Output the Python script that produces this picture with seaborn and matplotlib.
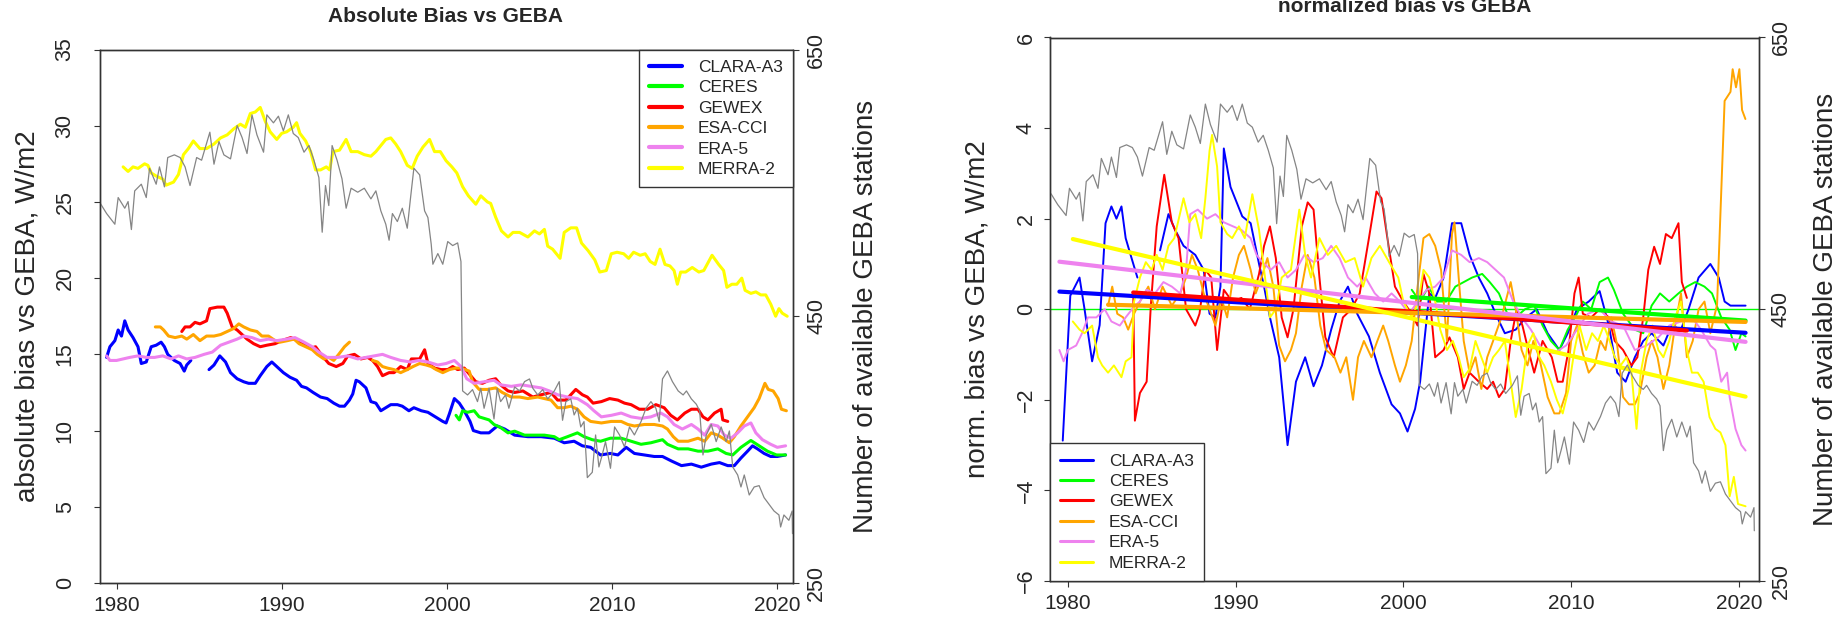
import matplotlib
matplotlib.use("Agg")
import matplotlib.pyplot as plt
from matplotlib.lines import Line2D
import pandas as pd
import seaborn as sns

# ---------------------------------------------------------------- data
SERIES_NAMES = ["CLARA-A3", "CERES", "GEWEX", "ESA-CCI", "ERA-5", "MERRA-2"]
SERIES_COLORS = ["#0000FF", "#00FF00", "#FF0000", "#FFA500", "#EE82EE", "#FFFF00"]

# Number of available GEBA stations (year, count)
geba_stations = [
    (1979.0, 535), (1979.4, 527), (1979.9, 519), (1980.1, 539), (1980.5, 531), (1980.7, 536),
    (1980.9, 515), (1981.1, 544), (1981.5, 549), (1981.8, 539), (1982.0, 561), (1982.4, 549),
    (1982.6, 562), (1982.9, 547), (1983.1, 569), (1983.5, 571), (1983.85, 569), (1984.15, 562),
    (1984.45, 548), (1984.85, 569), (1985.15, 567), (1985.65, 588), (1985.9, 564), (1986.2, 581),
    (1986.5, 571), (1986.9, 568), (1987.3, 593), (1987.6, 584), (1987.9, 572), (1988.2, 601),
    (1988.5, 586), (1988.9, 573), (1989.1, 601), (1989.5, 595), (1989.8, 600), (1990.1, 589),
    (1990.4, 601), (1990.7, 587), (1991.0, 584), (1991.35, 573), (1991.65, 578), (1991.95, 567),
    (1992.25, 554), (1992.45, 513), (1992.65, 548), (1992.85, 533), (1993.05, 578), (1993.35, 567),
    (1993.65, 553), (1993.9, 531), (1994.2, 546), (1994.6, 543), (1995.0, 546), (1995.4, 538),
    (1995.7, 544), (1996.0, 529), (1996.3, 519), (1996.5, 507), (1996.7, 527), (1997.0, 521),
    (1997.3, 531), (1997.6, 516), (1997.8, 539), (1998.0, 561), (1998.35, 556), (1998.65, 529),
    (1998.85, 524), (1999.05, 504), (1999.15, 489), (1999.45, 497), (1999.75, 489), (2000.05, 506),
    (2000.35, 503), (2000.65, 505), (2000.85, 491), (2000.95, 394), (2001.25, 391), (2001.55, 395),
    (2001.85, 386), (2002.05, 396), (2002.25, 381), (2002.55, 396), (2002.85, 373), (2003.05, 396),
    (2003.25, 386), (2003.55, 391), (2003.75, 381), (2004.1, 397), (2004.4, 394), (2004.7, 401),
    (2005.0, 403), (2005.2, 396), (2005.5, 391), (2005.8, 395), (2006.1, 388), (2006.5, 394),
    (2006.8, 401), (2007.0, 372), (2007.2, 386), (2007.5, 388), (2007.7, 376), (2007.9, 381),
    (2008.1, 367), (2008.3, 371), (2008.5, 329), (2008.8, 333), (2009.0, 361), (2009.2, 337),
    (2009.4, 346), (2009.6, 356), (2009.9, 336), (2010.15, 367), (2010.45, 361), (2010.75, 352),
    (2011.05, 367), (2011.35, 361), (2011.75, 371), (2012.05, 381), (2012.35, 386), (2012.65, 381),
    (2012.85, 371), (2013.05, 403), (2013.35, 409), (2013.65, 401), (2014.0, 394), (2014.3, 391),
    (2014.5, 394), (2014.8, 388), (2015.1, 384), (2015.3, 379), (2015.5, 346), (2015.7, 361),
    (2016.0, 369), (2016.3, 356), (2016.6, 367), (2016.9, 356), (2017.1, 364), (2017.3, 337),
    (2017.6, 331), (2017.8, 322), (2018.0, 331), (2018.3, 316), (2018.6, 322), (2018.9, 323),
    (2019.2, 314), (2019.5, 309), (2019.8, 304), (2020.1, 301), (2020.2, 292), (2020.4, 301),
    (2020.7, 297), (2020.9, 304), (2020.92, 287),
]

# Absolute bias vs GEBA, W/m2 (year, value); None marks a data gap
clara_abs = [
    (1979.4, 14.8), (1979.6, 15.5), (1979.9, 15.9), (1980.1, 16.6), (1980.3, 16.2), (1980.5, 17.2),
    (1980.7, 16.6), (1981.0, 16.1), (1981.3, 15.5), (1981.5, 14.4), (1981.8, 14.5), (1982.1, 15.5),
    (1982.4, 15.6), (1982.7, 15.8), (1982.9, 15.5), (1983.1, 15.0), (1983.5, 14.6), (1983.85, 14.4),
    (1984.1, 13.9), (1984.25, 14.3), (1984.5, 14.6), None,
    (1985.6, 14.0), (1985.9, 14.3), (1986.25, 14.9), (1986.6, 14.5), (1986.9, 13.8), (1987.3, 13.4),
    (1987.7, 13.2), (1988.0, 13.1), (1988.4, 13.1), (1988.7, 13.6), (1989.1, 14.2), (1989.4, 14.5),
    (1989.7, 14.2), (1990.1, 13.8), (1990.5, 13.5), (1990.9, 13.3), (1991.2, 12.9), (1991.5, 12.8),
    (1991.9, 12.5), (1992.35, 12.2), (1992.75, 12.1), (1993.15, 11.8), (1993.5, 11.6), (1993.8, 11.6),
    (1994.1, 12.0), (1994.3, 12.4), (1994.5, 13.3), (1994.7, 13.2), (1995.1, 12.8), (1995.4, 11.9),
    (1995.7, 11.8), (1996.0, 11.3), (1996.3, 11.5), (1996.6, 11.7), (1997.0, 11.7), (1997.3, 11.6),
    (1997.7, 11.3), (1998.0, 11.5), (1998.45, 11.3), (1998.85, 11.2), (1999.15, 11.0), (1999.45, 10.8),
    (1999.75, 10.6), (1999.95, 10.5), (2000.15, 11.1), (2000.45, 12.1), (2000.75, 11.8), (2001.05, 11.3),
    (2001.4, 10.6), (2001.6, 10.0), (2002.05, 9.85), (2002.55, 9.85), (2003.05, 10.3), (2003.5, 10.1),
    (2004.1, 9.7), (2004.9, 9.6), (2005.7, 9.6), (2006.5, 9.5), (2007.1, 9.2), (2007.7, 9.3),
    (2008.2, 9.0), (2008.7, 8.9), (2009.3, 8.4), (2009.9, 8.5), (2010.35, 8.4), (2010.85, 8.9),
    (2011.35, 8.5), (2011.95, 8.4), (2012.55, 8.3), (2013.05, 8.3), (2013.6, 8.0), (2014.2, 7.7),
    (2014.8, 7.8), (2015.4, 7.6), (2016.0, 7.8), (2016.5, 7.9), (2017.0, 7.7), (2017.4, 7.7),
    (2017.8, 8.2), (2018.2, 8.65), (2018.5, 9.0), (2018.8, 8.8), (2019.2, 8.5), (2019.6, 8.3),
    (2020.0, 8.3), (2020.5, 8.4),
]
ceres_abs = [
    (2000.55, 11.0), (2000.75, 10.7), (2000.95, 11.3), (2001.25, 11.2), (2001.65, 11.3), (2001.95, 10.9),
    (2002.25, 10.8), (2002.55, 10.7), (2002.85, 10.4), (2003.25, 10.2), (2003.7, 9.85), (2004.1, 9.96),
    (2004.7, 9.7), (2005.3, 9.7), (2005.9, 9.7), (2006.5, 9.6), (2006.8, 9.4), (2007.3, 9.6),
    (2007.9, 9.85), (2008.3, 9.6), (2008.8, 9.4), (2009.3, 9.3), (2009.9, 9.5), (2010.55, 9.5),
    (2011.15, 9.3), (2011.75, 9.1), (2012.35, 9.2), (2013.05, 9.4), (2013.35, 9.1), (2014.0, 8.8),
    (2014.6, 8.8), (2015.2, 8.65), (2015.8, 8.65), (2016.4, 8.8), (2016.9, 8.5), (2017.3, 8.4),
    (2017.8, 8.9), (2018.4, 9.35), (2018.9, 9.0), (2019.4, 8.65), (2019.95, 8.4), (2020.5, 8.4),
]
gewex_abs = [
    (1983.95, 16.5), (1984.15, 16.8), (1984.45, 16.8), (1984.75, 17.1), (1985.05, 17.0), (1985.45, 17.2),
    (1985.65, 18.0), (1986.1, 18.1), (1986.5, 18.1), (1986.7, 17.7), (1987.0, 16.8), (1987.3, 16.6),
    (1987.6, 16.3), (1987.9, 16.0), (1988.3, 15.7), (1988.7, 15.5), (1989.1, 15.6), (1989.6, 15.7),
    (1990.0, 15.9), (1990.55, 16.1), (1990.95, 15.9), (1991.35, 15.7), (1991.75, 15.4), (1992.05, 15.5),
    (1992.45, 14.9), (1992.85, 14.4), (1993.3, 14.2), (1993.7, 14.4), (1994.0, 14.9), (1994.4, 15.0),
    (1994.8, 14.7), (1995.2, 14.8), (1995.5, 14.6), (1995.8, 14.2), (1996.1, 13.6), (1996.5, 13.8),
    (1996.8, 13.8), (1997.2, 14.2), (1997.6, 14.0), (1997.85, 14.7), (1998.35, 14.7), (1998.65, 15.3),
    (1998.85, 14.4), (1999.25, 14.1), (1999.65, 14.0), (2000.05, 14.0), (2000.35, 14.2), (2000.65, 14.0),
    (2001.05, 14.1), (2001.75, 13.2), (2002.15, 13.1), (2002.55, 13.3), (2002.95, 13.4), (2003.25, 13.0),
    (2003.7, 12.6), (2004.1, 12.5), (2004.6, 12.6), (2005.2, 12.2), (2005.7, 12.35), (2006.3, 12.5),
    (2006.7, 12.0), (2007.2, 12.0), (2007.8, 12.7), (2008.2, 12.35), (2008.5, 12.2), (2008.85, 11.8),
    (2009.35, 11.9), (2009.85, 12.1), (2010.35, 12.0), (2010.75, 11.8), (2011.15, 11.7), (2011.65, 11.4),
    (2012.15, 11.4), (2012.65, 11.7), (2013.15, 11.5), (2013.55, 11.0), (2013.95, 10.7), (2014.4, 11.15),
    (2014.8, 11.4), (2015.2, 11.4), (2015.5, 10.9), (2015.8, 10.7), (2016.2, 11.15), (2016.6, 11.4),
    (2016.7, 10.7), (2017.0, 10.6),
]
esacci_abs = [
    (1982.35, 16.8), (1982.65, 16.8), (1982.85, 16.6), (1983.15, 16.2), (1983.55, 16.1), (1983.95, 16.2),
    (1984.25, 16.0), (1984.65, 16.3), (1985.05, 15.9), (1985.45, 16.2), (1985.9, 16.2), (1986.3, 16.3),
    (1986.7, 16.5), (1987.1, 16.7), (1987.4, 17.0), (1987.7, 16.8), (1988.1, 16.6), (1988.5, 16.5),
    (1988.8, 16.2), (1989.2, 16.2), (1989.6, 15.9), (1989.9, 15.8), (1990.35, 15.9), (1990.75, 16.0),
    (1991.05, 15.7), (1991.45, 15.5), (1991.85, 15.3), (1992.15, 15.0), (1992.55, 14.7), (1992.85, 14.8),
    (1993.15, 14.6), (1993.45, 15.0), (1993.8, 15.5), (1994.1, 15.8), None,
    (1995.5, 14.6), (1995.8, 14.5), (1996.1, 14.2), (1996.4, 14.1), (1996.8, 14.0), (1997.2, 13.8),
    (1997.6, 14.0), (1997.95, 14.2), (1998.35, 14.4), (1998.75, 14.3), (1999.05, 14.2), (1999.35, 14.0),
    (1999.75, 13.8), (2000.15, 14.0), (2000.55, 14.1), (2000.85, 14.1), (2001.35, 13.9), (2001.55, 13.2),
    (2001.95, 12.7), (2002.45, 12.7), (2002.95, 12.8), (2003.35, 12.5), (2003.9, 12.2), (2004.4, 12.2),
    (2004.9, 12.1), (2005.5, 12.2), (2005.9, 12.1), (2006.3, 12.0), (2006.7, 11.5), (2007.1, 11.5),
    (2007.5, 11.6), (2007.9, 11.4), (2008.3, 10.9), (2008.7, 10.6), (2009.35, 10.5), (2009.95, 10.6),
    (2010.55, 10.6), (2010.95, 10.4), (2011.35, 10.3), (2011.95, 10.4), (2012.55, 10.4), (2013.05, 10.3),
    (2013.35, 10.1), (2013.7, 9.6), (2014.0, 9.3), (2014.6, 9.3), (2015.2, 9.5), (2015.6, 9.3),
    (2016.0, 9.85), (2016.4, 9.7), (2016.7, 9.5), (2017.1, 9.2), (2017.4, 9.6), (2017.8, 10.3),
    (2018.2, 10.9), (2018.6, 11.5), (2018.9, 12.1), (2019.25, 13.1), (2019.45, 12.7), (2019.75, 12.6),
    (2020.05, 12.1), (2020.25, 11.4), (2020.55, 11.3),
]
era5_abs = [
    (1979.4, 14.9), (1979.6, 14.6), (1980.0, 14.6), (1980.4, 14.7), (1980.8, 14.8), (1981.3, 14.9),
    (1981.8, 14.8), (1982.3, 14.8), (1982.8, 14.9), (1983.3, 14.7), (1983.75, 14.9), (1984.25, 14.7),
    (1984.75, 14.8), (1985.3, 15.0), (1985.8, 15.15), (1986.3, 15.6), (1986.8, 15.8), (1987.3, 16.0),
    (1987.7, 16.2), (1988.2, 16.1), (1988.7, 15.9), (1989.2, 16.0), (1989.7, 15.9), (1990.3, 16.0),
    (1990.8, 16.1), (1991.35, 15.8), (1991.85, 15.5), (1992.25, 15.15), (1992.75, 14.8), (1993.4, 14.8),
    (1994.0, 14.9), (1994.6, 14.7), (1995.1, 14.8), (1995.6, 14.9), (1996.1, 15.0), (1996.6, 14.8),
    (1997.2, 14.6), (1997.8, 14.5), (1998.3, 14.6), (1998.85, 14.5), (1999.45, 14.3), (1999.95, 14.4),
    (2000.45, 14.6), (2000.85, 14.2), (2001.2, 13.4), (2001.65, 13.1), (2002.25, 13.2), (2002.85, 13.3),
    (2003.25, 13.0), (2003.9, 12.9), (2004.5, 13.0), (2005.1, 12.9), (2005.7, 12.8), (2006.2, 12.6),
    (2006.7, 12.35), (2007.3, 12.2), (2007.9, 12.1), (2008.5, 11.7), (2008.9, 11.3), (2009.35, 10.9),
    (2009.95, 11.0), (2010.55, 11.15), (2011.15, 10.9), (2011.75, 10.8), (2012.35, 10.9), (2012.95, 11.15),
    (2013.35, 10.9), (2013.75, 10.4), (2014.25, 10.1), (2014.8, 10.4), (2015.2, 10.1), (2015.6, 9.7),
    (2016.0, 10.4), (2016.4, 10.3), (2016.8, 9.7), (2017.2, 9.5), (2017.6, 9.85), (2018.0, 10.3),
    (2018.4, 10.5), (2018.7, 9.85), (2019.1, 9.4), (2019.6, 9.1), (2020.0, 8.9), (2020.5, 9.0),
]
merra2_abs = [
    (1980.4, 27.3), (1980.7, 27.0), (1981.0, 27.3), (1981.3, 27.2), (1981.7, 27.5), (1981.9, 27.4),
    (1982.1, 26.9), (1982.4, 26.7), (1982.6, 26.6), (1982.8, 26.5), (1983.0, 26.1), (1983.45, 26.3),
    (1983.75, 26.8), (1984.05, 28.1), (1984.35, 28.5), (1984.65, 29.0), (1985.05, 28.5), (1985.45, 28.5),
    (1985.9, 28.8), (1986.3, 29.2), (1986.7, 29.4), (1987.1, 29.8), (1987.5, 30.1), (1987.8, 29.9),
    (1988.1, 30.8), (1988.4, 30.9), (1988.7, 31.2), (1989.0, 30.3), (1989.3, 29.6), (1989.7, 29.1),
    (1990.0, 29.5), (1990.3, 29.6), (1990.7, 29.9), (1990.9, 30.2), (1991.1, 29.5), (1991.45, 29.0),
    (1991.75, 28.3), (1992.05, 27.1), (1992.35, 27.1), (1992.7, 27.3), (1992.9, 27.1), (1993.1, 28.3),
    (1993.5, 28.4), (1993.9, 29.1), (1994.2, 28.3), (1994.6, 28.3), (1995.0, 28.1), (1995.4, 28.0),
    (1995.7, 28.3), (1996.0, 28.7), (1996.3, 29.1), (1996.6, 29.2), (1996.9, 28.8), (1997.2, 28.3),
    (1997.6, 27.4), (1997.9, 27.2), (1998.2, 28.0), (1998.55, 28.6), (1998.95, 29.1), (1999.25, 28.3),
    (1999.6, 28.3), (1999.95, 27.7), (2000.3, 27.3), (2000.6, 26.9), (2000.95, 26.0), (2001.3, 25.4),
    (2001.75, 24.85), (2002.05, 25.4), (2002.45, 25.0), (2002.65, 24.9), (2002.95, 24.0), (2003.3, 23.1),
    (2003.7, 22.7), (2004.0, 23.0), (2004.4, 23.0), (2004.9, 22.7), (2005.3, 23.1), (2005.6, 22.9),
    (2005.9, 23.2), (2006.1, 22.1), (2006.4, 21.9), (2006.85, 21.3), (2007.1, 23.0), (2007.5, 23.3),
    (2007.85, 23.3), (2008.15, 22.3), (2008.55, 21.8), (2008.95, 21.2), (2009.25, 20.4), (2009.65, 20.5),
    (2009.95, 21.6), (2010.3, 21.7), (2010.7, 21.6), (2011.0, 21.3), (2011.3, 21.7), (2011.7, 21.5),
    (2012.0, 21.6), (2012.3, 21.1), (2012.6, 20.9), (2012.9, 21.9), (2013.2, 20.9), (2013.5, 20.8),
    (2013.75, 20.5), (2013.95, 19.6), (2014.15, 20.4), (2014.45, 20.4), (2014.85, 20.7), (2015.25, 20.4),
    (2015.55, 20.5), (2015.75, 20.9), (2016.05, 21.5), (2016.45, 20.9), (2016.75, 20.5), (2016.95, 19.4),
    (2017.25, 19.6), (2017.55, 19.6), (2017.85, 20.0), (2018.05, 19.2), (2018.4, 19.0), (2018.7, 19.1),
    (2019.0, 18.9), (2019.3, 18.9), (2019.6, 18.3), (2019.9, 17.5), (2020.1, 18.0), (2020.3, 17.7),
    (2020.6, 17.5),
]

# Normalized bias vs GEBA, W/m2 (year, value)
clara_norm = [
    (1979.7, -2.9), (1980.15, 0.3), (1980.7, 0.7), (1981.0, 0.0), (1981.45, -1.15), (1981.9, -0.35),
    (1982.25, 1.9), (1982.6, 2.27), (1982.9, 2.0), (1983.2, 2.27), (1983.45, 1.57), (1983.8, 1.13),
    (1984.15, 0.7), None,
    (1985.5, 1.3), (1986.0, 2.1), (1986.4, 1.75), (1986.9, 1.4), (1987.6, 1.2), (1988.1, 0.87),
    (1988.45, -0.1), (1988.8, -0.18), (1989.1, 0.5), (1989.3, 3.55), (1989.7, 2.7), (1990.4, 2.05),
    (1990.9, 1.9), (1991.4, 1.0), (1991.7, 0.5), (1992.05, -0.18), (1992.6, -1.06), (1993.1, -3.0),
    (1993.6, -1.6), (1994.15, -1.06), (1994.65, -1.7), (1995.15, -1.24), (1995.7, -0.45), (1996.2, 0.17),
    (1996.7, 0.5), (1997.25, -0.1), (1997.95, -0.6), (1998.6, -1.4), (1999.3, -2.1), (1999.8, -2.3),
    (2000.25, -2.7), (2000.7, -2.2), (2001.0, -1.6), (2001.55, 0.35), (2001.9, 0.25), (2002.4, 0.7),
    (2002.9, 1.9), (2003.45, 1.9), (2003.95, 1.2), (2004.5, 0.7), (2005.0, 0.35), (2005.5, -0.1),
    (2006.05, -0.53), (2006.7, -0.45), (2007.25, -0.2), (2007.95, 0.0), (2008.6, -0.53), (2009.3, -0.9),
    (2009.8, -0.53), (2010.35, 0.0), (2011.05, 0.17), (2011.7, 0.4), (2012.25, -0.36), (2012.75, -1.4),
    (2013.25, -1.6), (2013.8, -1.06), (2014.3, -0.7), (2014.8, -0.53), (2015.5, -0.8), (2016.0, -0.36),
    (2016.55, -0.45), (2017.0, 0.0), (2017.6, 0.7), (2018.3, 1.0), (2018.8, 0.7), (2019.15, 0.17),
    (2019.5, 0.08), (2020.0, 0.08), (2020.4, 0.08),
]
ceres_norm = [
    (2000.5, 0.43), (2001.0, 0.17), (2001.5, 0.5), (2002.0, 0.17), (2002.55, 0.17), (2003.1, 0.5),
    (2003.6, 0.6), (2004.1, 0.7), (2004.7, 0.78), (2005.15, 0.6), (2005.7, 0.35), (2006.2, -0.1),
    (2006.7, -0.18), (2007.25, 0.0), (2007.8, 0.08), (2008.3, -0.36), (2008.8, -0.7), (2009.3, -0.9),
    (2009.8, -0.45), (2010.35, -0.1), (2010.7, 0.17), (2011.2, 0.0), (2011.7, 0.6), (2012.2, 0.7),
    (2012.55, 0.43), (2013.1, -0.1), (2013.8, -0.45), (2014.3, -0.53), (2014.8, 0.08), (2015.3, 0.35),
    (2015.85, 0.17), (2016.4, 0.35), (2016.9, 0.5), (2017.4, 0.6), (2017.95, 0.5), (2018.4, 0.35),
    (2018.95, -0.18), (2019.45, -0.45), (2019.8, -0.9), (2020.15, -0.53), (2020.4, -0.6),
]
gewex_norm = [
    (1983.9, 0.38), (1984.0, -2.46), (1984.3, -1.85), (1984.7, -1.6), (1984.95, 0.08), (1985.3, 1.83),
    (1985.75, 2.97), (1986.2, 1.92), (1986.6, 1.57), (1987.05, 0.0), (1987.6, -0.36), (1987.85, -0.1),
    (1988.2, 0.87), (1988.55, 0.7), (1988.9, -0.9), (1989.3, 0.43), (1989.8, 0.17), (1990.35, 0.25),
    (1990.85, 0.0), (1991.4, 0.78), (1991.7, 1.4), (1992.05, 1.83), (1992.4, 1.13), (1992.75, -0.18),
    (1993.1, -0.62), (1993.45, 0.0), (1993.95, 1.83), (1994.3, 2.36), (1994.65, 2.2), (1995.0, 0.7),
    (1995.35, -0.62), (1995.85, -1.06), (1996.4, -0.18), (1996.9, 0.0), (1997.4, 0.35), (1997.95, 1.57),
    (1998.4, 2.6), (1998.7, 2.45), (1999.05, 1.57), (1999.5, 0.5), (2000.0, 0.17), (2000.5, -0.1),
    (2000.85, -0.36), (2001.2, 0.78), (2001.55, 0.35), (2001.9, -1.06), (2002.4, -0.9), (2002.75, -0.62),
    (2003.25, -1.06), (2003.6, -1.76), (2003.95, -1.4), (2004.5, -1.6), (2005.0, -1.76), (2005.35, -1.6),
    (2005.7, -1.94), (2006.05, -1.76), (2006.4, -0.7), (2006.75, 0.0), (2007.1, -0.36), (2007.45, -0.9),
    (2007.8, -1.4), (2008.3, -0.7), (2008.85, -1.06), (2009.2, -1.6), (2009.5, -1.6), (2009.85, -0.9),
    (2010.2, 0.35), (2010.45, 0.7), (2010.7, -0.1), (2011.2, -0.18), (2011.7, 0.0), (2012.25, -0.18),
    (2012.6, -0.7), (2013.1, -0.9), (2013.6, -1.24), (2013.95, -1.06), (2014.3, -0.18), (2014.6, 0.87),
    (2014.95, 1.38), (2015.3, 1.0), (2015.65, 1.66), (2016.0, 1.57), (2016.4, 1.9), (2016.6, 0.6),
    (2016.9, 0.25),
]
esacci_norm = [
    (1982.4, 0.08), (1982.65, 0.5), (1982.95, -0.1), (1983.3, -0.18), (1983.6, -0.45), (1983.95, -0.1),
    (1984.3, 0.17), (1984.8, 0.5), (1985.2, 0.0), (1985.65, 0.5), (1986.2, 0.08), (1986.7, 0.35),
    (1987.05, 0.7), (1987.4, 1.2), (1987.75, 0.87), (1988.1, 0.35), (1988.45, 0.0), (1988.8, -0.36),
    (1989.15, 0.25), (1989.5, -0.18), (1989.85, 0.7), (1990.2, 1.2), (1990.5, 1.4), (1990.9, 0.87),
    (1991.2, 0.35), (1991.55, 0.7), (1991.9, 1.13), (1992.25, 0.5), (1992.6, -0.8), (1992.95, -1.15),
    (1993.3, -0.9), (1993.6, -0.53), (1993.95, 0.5), (1994.3, 1.2), (1994.7, 0.7), (1995.05, -0.36),
    (1995.4, -0.9), (1995.9, -1.06), (1996.25, -1.4), (1996.6, -1.06), (1997.0, -2.0), (1997.3, -1.06),
    (1997.65, -0.7), (1998.1, -1.06), (1998.45, -0.7), (1998.8, -0.36), (1999.1, -0.7), (1999.5, -1.24),
    (1999.8, -1.6), (2000.15, -1.24), (2000.5, -0.7), (2000.85, 0.5), (2001.2, 1.57), (2001.55, 1.66),
    (2001.9, 1.4), (2002.25, 0.87), (2002.6, -0.7), (2002.9, 1.66), (2003.05, 1.92), (2003.3, 0.7),
    (2003.6, -0.7), (2003.95, -1.4), (2004.3, -1.06), (2004.65, -1.76), (2005.0, -1.06), (2005.35, -0.7),
    (2005.85, -0.18), (2006.4, 0.6), (2006.7, 0.0), (2007.05, -0.9), (2007.4, -1.24), (2007.75, -0.7),
    (2008.1, -1.06), (2008.6, -1.94), (2009.0, -2.3), (2009.3, -2.3), (2009.7, -1.85), (2010.0, -0.7),
    (2010.35, -0.36), (2010.7, -0.97), (2011.05, -1.4), (2011.4, -1.24), (2011.75, -0.7), (2012.05, -0.9),
    (2012.4, -0.18), (2012.75, -0.8), (2013.1, -1.94), (2013.45, -2.1), (2013.8, -2.1), (2014.1, -1.85),
    (2014.5, -1.06), (2014.8, -0.7), (2015.15, -1.06), (2015.5, -1.76), (2015.85, -1.24), (2016.2, -0.36),
    (2016.55, 0.35), (2016.9, -1.06), (2017.25, -0.7), (2017.6, 0.0), (2017.95, 0.17), (2018.3, -0.53),
    (2018.7, 0.1), (2019.15, 4.6), (2019.5, 4.8), (2019.63, 5.3), (2019.83, 4.9), (2020.03, 5.3),
    (2020.19, 4.4), (2020.39, 4.2),
]
era5_norm = [
    (1979.5, -0.9), (1979.75, -1.15), (1980.0, -0.9), (1980.5, -0.8), (1980.85, -0.53), (1981.2, -0.18),
    (1981.7, -0.18), (1982.2, 0.0), (1982.6, -0.27), (1983.1, -0.36), (1983.45, -0.18), (1984.0, 0.08),
    (1984.3, 0.17), (1984.7, 0.43), (1985.2, 0.35), (1985.7, 0.6), (1986.2, 0.5), (1986.7, 0.35),
    (1987.05, 0.87), (1987.3, 2.1), (1987.75, 2.2), (1988.3, 2.0), (1988.8, 2.1), (1989.3, 1.92),
    (1989.85, 1.83), (1990.35, 1.75), (1990.9, 1.57), (1991.25, 1.2), (1991.6, 1.04), (1992.1, 0.87),
    (1992.6, 1.04), (1993.1, 0.7), (1993.6, 0.87), (1994.1, 1.2), (1994.65, 1.04), (1995.2, 1.13),
    (1995.7, 1.4), (1996.2, 1.13), (1996.7, 0.7), (1997.25, 0.5), (1997.75, 0.7), (1998.3, 0.35),
    (1998.8, 0.17), (1999.3, 0.35), (1999.8, 0.17), (2000.35, -0.1), (2000.85, 0.17), (2001.4, 0.43),
    (2001.9, 0.5), (2002.4, 0.7), (2002.9, 1.3), (2003.45, 1.2), (2003.95, 1.04), (2004.5, 1.13),
    (2005.0, 1.04), (2005.5, 0.87), (2006.0, 0.7), (2006.55, 0.17), (2007.05, -0.18), (2007.6, -0.45),
    (2008.3, -0.9), (2009.0, -0.97), (2009.7, -0.8), (2010.35, -0.45), (2011.0, -0.1), (2011.7, 0.0),
    (2012.4, -0.27), (2013.1, -0.36), (2013.8, -0.9), (2014.5, -0.8), (2015.2, -0.62), (2015.85, -0.36),
    (2016.55, -0.27), (2017.2, -0.18), (2017.75, -0.45), (2018.3, -0.8), (2018.6, -0.9), (2018.95, -1.6),
    (2019.3, -1.4), (2019.45, -1.94), (2019.8, -2.64), (2020.15, -3.0), (2020.4, -3.12),
]
merra2_norm = [
    (1980.3, -0.27), (1980.7, -0.45), (1981.0, -0.53), (1981.45, -0.36), (1981.8, -1.06), (1982.05, -1.24),
    (1982.4, -1.4), (1982.75, -1.24), (1983.2, -1.5), (1983.45, -1.15), (1983.8, -1.06), (1983.95, 0.17),
    (1984.3, 0.7), (1984.65, 1.04), (1985.0, 0.87), (1985.3, 1.2), (1985.65, 0.87), (1986.0, 1.4),
    (1986.35, 1.57), (1986.9, 2.45), (1987.25, 1.92), (1987.6, 2.1), (1987.95, 1.57), (1988.2, 2.45),
    (1988.45, 3.5), (1988.6, 3.85), (1988.9, 3.15), (1989.1, 1.92), (1989.5, 1.66), (1989.8, 1.57),
    (1990.2, 1.83), (1990.55, 1.57), (1991.0, 2.54), (1991.4, 1.75), (1991.7, 0.87), (1992.05, -0.18),
    (1992.4, 0.0), (1992.75, 0.7), (1993.3, 0.87), (1993.8, 2.2), (1994.15, 1.2), (1994.5, 0.7),
    (1995.0, 1.57), (1995.5, 1.2), (1996.0, 1.4), (1996.55, 1.04), (1997.1, 1.13), (1997.6, 0.5),
    (1998.1, 1.13), (1998.6, 1.4), (1999.15, 1.04), (1999.7, 0.7), (2000.0, 0.17), (2000.5, -0.18),
    (2000.9, 0.17), (2001.2, 0.87), (2001.55, 0.7), (2001.9, 0.17), (2002.2, -0.45), (2002.6, -0.9),
    (2002.95, -0.7), (2003.3, -1.06), (2003.6, -1.5), (2003.95, -1.32), (2004.3, -0.7), (2004.65, -1.06),
    (2005.0, -1.4), (2005.35, -1.06), (2005.7, -0.9), (2006.05, -0.7), (2006.4, -1.6), (2006.7, -2.38),
    (2007.05, -1.76), (2007.4, -0.8), (2007.75, -0.53), (2008.1, -1.06), (2008.4, -1.24), (2008.8, -1.6),
    (2009.15, -2.0), (2009.5, -2.3), (2009.85, -1.76), (2010.2, -0.9), (2010.5, -0.36), (2010.9, -0.9),
    (2011.25, -0.53), (2011.6, -0.7), (2011.95, -0.36), (2012.3, -0.7), (2012.6, -1.06), (2012.95, -1.24),
    (2013.3, -1.06), (2013.6, -1.4), (2013.9, -2.64), (2014.15, -1.4), (2014.5, -0.7), (2014.85, -0.36),
    (2015.2, -0.9), (2015.5, -1.06), (2015.85, -0.7), (2016.2, -0.18), (2016.55, 0.17), (2016.9, -0.9),
    (2017.2, -1.4), (2017.55, -1.4), (2017.9, -1.6), (2018.25, -2.38), (2018.6, -2.64), (2018.9, -2.72),
    (2019.2, -3.0), (2019.45, -4.13), (2019.7, -3.7), (2019.95, -4.3), (2020.4, -4.35),
]

# Linear trends of the normalized bias: start/end year and value per product
trend_start_year = [1979.5, 2000.5, 1983.9, 1982.4, 1979.5, 1980.3]
trend_start_value = [0.39, 0.27, 0.37, 0.10, 1.05, 1.55]
trend_end_year = [2020.4, 2020.4, 2016.9, 2020.4, 2020.4, 2020.4]
trend_end_value = [-0.52, -0.25, -0.47, -0.28, -0.72, -1.93]

X_TICKS = [1980, 1990, 2000, 2010, 2020]
ABS_TICKS = [0, 5, 10, 15, 20, 25, 30, 35]
NORM_TICKS = [-6, -4, -2, 0, 2, 4, 6]
STATION_TICKS = [250, 450, 650]

abs_series = [clara_abs, ceres_abs, gewex_abs, esacci_abs, era5_abs, merra2_abs]
norm_series = [clara_norm, ceres_norm, gewex_norm, esacci_norm, era5_norm, merra2_norm]

# ---------------------------------------------------------------- style
sns.set_theme(style="white")
plt.rcParams["font.family"] = ["Liberation Sans", "DejaVu Sans"]
plt.rcParams["axes.edgecolor"] = "#333333"
plt.rcParams["axes.linewidth"] = 1.0

W, H = 1847, 623
fig = plt.figure(figsize=(W / 100, H / 100), dpi=100)
fig.patch.set_facecolor("white")

FRAME = "#333333"
GRAY = "#858585"


def segments(points):
    seg = []
    for p in points:
        if p is None:
            if seg:
                yield seg
            seg = []
        else:
            seg.append(p)
    if seg:
        yield seg


def draw_series(ax, points, color, lw, z=2):
    for seg in segments(points):
        df = pd.DataFrame(seg, columns=["year", "value"])
        sns.lineplot(data=df, x="year", y="value", ax=ax, color=color,
                     linewidth=lw, estimator=None, sort=False, legend=False,
                     zorder=z)


def style_axes(ax, ylim, yticks, xlim, ypad):
    ax.set_xlim(*xlim)
    ax.set_ylim(*ylim)
    ax.set_xticks(X_TICKS)
    ax.set_yticks(yticks)
    ax.set_xlabel("")
    ax.set_ylabel("")
    for s in ax.spines.values():
        s.set_visible(True)
        s.set_color(FRAME)
        s.set_linewidth(1.0)
    ax.tick_params(axis="x", direction="out", length=4.5, width=0.8,
                   color=FRAME, labelsize=15, pad=5, bottom=True)
    ax.tick_params(axis="y", direction="out", length=4.5, width=0.8,
                   color=FRAME, labelsize=15.5, pad=ypad, left=True)
    for lab in ax.get_yticklabels():
        lab.set_rotation(90)
        lab.set_va("center")
        lab.set_ha("right")


def style_twin(ax2, pad):
    ax2.set_ylim(250, 650)
    ax2.set_yticks(STATION_TICKS)
    ax2.set_ylabel("")
    ax2.set_xlabel("")
    ax2.tick_params(axis="y", direction="out", length=4.5, width=0.8,
                    color=FRAME, labelsize=15.5, pad=pad, right=True)
    for lab in ax2.get_yticklabels():
        lab.set_rotation(90)
        lab.set_va("center")
        lab.set_ha("left")


def add_legend(ax, loc, lw):
    handles = [Line2D([0], [0], color=c, lw=lw) for c in SERIES_COLORS]
    leg = ax.legend(handles, SERIES_NAMES, loc=loc, frameon=True, fancybox=False,
                    borderaxespad=0, edgecolor=FRAME, framealpha=1, fontsize=12.5,
                    handlelength=1.9, handletextpad=0.9, labelspacing=0.3,
                    borderpad=0.6)
    leg.get_frame().set_linewidth(1.0)
    leg.set_zorder(20)


# ---------------------------------------------------------------- left panel: absolute bias
ax1 = fig.add_axes([100 / W, 1 - 583 / H, 693 / W, 533.5 / H])
for pts, col in zip(abs_series, SERIES_COLORS):
    draw_series(ax1, pts, col, 2.2)
style_axes(ax1, (0, 35), ABS_TICKS, (1979.0, 2020.95), 13)

ax2 = ax1.twinx()
stations = pd.DataFrame(geba_stations, columns=["year", "count"])
sns.lineplot(data=stations, x="year", y="count", ax=ax2, color=GRAY,
             linewidth=0.9, estimator=None, sort=False, legend=False)
style_twin(ax2, 5)
ax2.set_xlim(1979.0, 2020.95)
add_legend(ax2, "upper right", 3.0)

fig.text(446 / W, 1 - 17 / H, "Absolute Bias vs GEBA", ha="center", va="center",
         fontsize=15, fontweight="bold")
fig.text(28 / W, 1 - 316 / H, "absolute bias vs GEBA, W/m2", rotation=90,
         ha="center", va="center", fontsize=20)
fig.text(866 / W, 1 - 316 / H, "Number of available GEBA stations", rotation=90,
         ha="center", va="center", fontsize=20)

# ---------------------------------------------------------------- right panel: normalized bias
ax3 = fig.add_axes([1050 / W, 1 - 581 / H, 709 / W, 543.5 / H])
ax3.axhline(0, color="#00FF00", linewidth=1.0, zorder=1)
for pts, col in zip(norm_series, SERIES_COLORS):
    draw_series(ax3, pts, col, 1.4)
for i, col in enumerate(SERIES_COLORS):
    trend = pd.DataFrame({"year": [trend_start_year[i], trend_end_year[i]],
                          "value": [trend_start_value[i], trend_end_value[i]]})
    sns.lineplot(data=trend, x="year", y="value", ax=ax3, color=col,
                 linewidth=3.0, estimator=None, sort=False, legend=False, zorder=3)
style_axes(ax3, (-6, 6), NORM_TICKS, (1978.94, 2021.2), 5)

ax4 = ax3.twinx()
sns.lineplot(data=stations, x="year", y="count", ax=ax4, color=GRAY,
             linewidth=0.9, estimator=None, sort=False, legend=False)
style_twin(ax4, 4)
ax4.set_xlim(1978.94, 2021.2)
add_legend(ax4, "lower left", 2.2)

fig.text(1405 / W, 1 - 7 / H, "normalized bias vs GEBA", ha="center", va="center",
         fontsize=15, fontweight="bold")
fig.text(978 / W, 1 - 309 / H, "norm. bias vs GEBA, W/m2", rotation=90,
         ha="center", va="center", fontsize=20)
fig.text(1826 / W, 1 - 309 / H, "Number of available GEBA stations", rotation=90,
         ha="center", va="center", fontsize=20)

fig.savefig("out.png", dpi=100, facecolor="white")
